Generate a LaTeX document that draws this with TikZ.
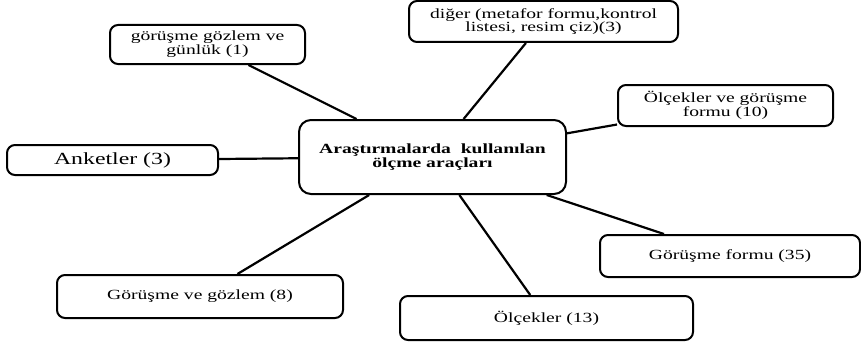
\documentclass[tikz,border=0pt]{standalone}
\usepackage{fontspec}
\setmainfont{Liberation Serif}[FakeStretch=1.4]
\begin{document}
\begin{tikzpicture}[x=1pt,y=-1pt,
    box/.style={draw, line width=2pt, rounded corners=8pt, inner sep=0pt,
      align=center, font=\fontsize{14}{12}\selectfont},
    link/.style={line width=2.2pt},
  ]
    \useasboundingbox (0,0) rectangle (861,345);

    % centre
    \node[box, minimum width=267pt, minimum height=74pt, rounded corners=12pt,
      font=\bfseries\fontsize{14}{12}\selectfont] (cen) at (432.5,157)
      {Araştırmalarda\ \ kullanılan\\ölçme araçları};

    % around it
    \node[box, minimum width=195pt, minimum height=39pt] (gun) at (207.5,44.5)
      {görüşme gözlem ve\\günlük (1)};
    \node[box, minimum width=211pt, minimum height=30pt,
      font=\fontsize{17}{14}\selectfont] (ank) at (112.5,160) {Anketler (3)};
    \node[box, minimum width=269pt, minimum height=41pt] (dig) at (543.5,21.5)
      {diğer (metafor formu,kontrol\\listesi, resim çiz)(3)};
    \node[box, minimum width=215pt, minimum height=41pt] (olg) at (725.5,105.5)
      {Ölçekler ve görüşme\\formu (10)};
    \node[box, minimum width=260pt, minimum height=42pt] (gf) at (730,256)
      {Görüşme formu (35)};
    \node[box, minimum width=293pt, minimum height=44pt] (olc) at (546.5,318)
      {Ölçekler (13)};
    \node[box, minimum width=286pt, minimum height=43pt] (gg) at (200,296.5)
      {Görüşme ve gözlem (8)};

    \draw[link] (cen) -- (gun);
    \draw[link] (cen) -- (ank);
    \draw[link] (cen) -- (dig);
    \draw[link] (cen) -- (olg);
    \draw[link] (cen) -- (gf);
    \draw[link] (cen) -- (olc);
    \draw[link] (cen) -- (gg);
  \end{tikzpicture}
\end{document}
